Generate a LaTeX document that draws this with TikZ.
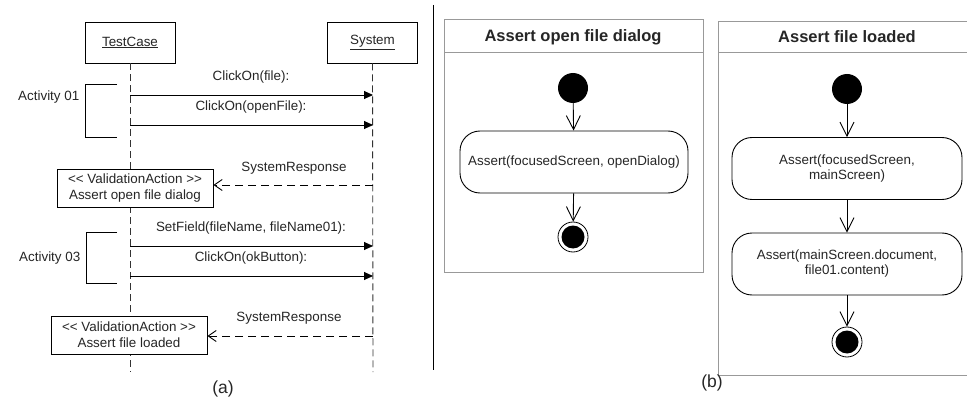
\documentclass[tikz,border=0pt]{standalone}
\usepackage{fontspec}
\setmainfont{Liberation Sans}
\usetikzlibrary{arrows.meta}
\begin{document}
\begin{tikzpicture}[x=1pt,y=-1pt,
  txt/.style={font=\fontsize{13.4}{16}\selectfont, inner sep=0pt, text=black!85},
  ttl/.style={font=\bfseries\fontsize{16.5}{18}\selectfont, inner sep=0pt, text=black!85},
  captxt/.style={font=\fontsize{17.5}{19}\selectfont, inner sep=0pt, text=black!85},
  objbox/.style={draw, line width=0.9pt, fill=white, minimum width=90pt, minimum height=41pt, inner sep=0pt, font=\fontsize{13.4}{16}\selectfont, text=black!85},
  valbox/.style={draw, line width=0.9pt, fill=white, minimum width=156pt, minimum height=38pt, inner sep=0pt, align=center, font=\fontsize{13.4}{16}\selectfont, text=black!85},
  lifeline/.style={line width=0.9pt, dash pattern=on 7pt off 4pt, black!80},
  msg/.style={line width=0.9pt, -{Triangle[length=9pt,width=8pt]}},
  resp/.style={line width=0.9pt, dash pattern=on 8pt off 5pt, -{Straight Barb[length=8pt,width=11pt,line width=0.9pt]}},
  bracket/.style={line width=0.9pt},
  panel/.style={line width=1pt, black!40},
  actbox/.style={draw, line width=0.9pt, rounded corners=20pt, minimum height=62pt, inner sep=0pt, align=center, font=\fontsize{13.4}{15}\selectfont, text=black!85},
  initnode/.style={circle, fill=black, minimum size=30pt, inner sep=0pt},
  finalring/.style={circle, draw, line width=0.8pt, minimum size=30pt, inner sep=0pt},
  finaldot/.style={circle, fill=black, minimum size=23pt, inner sep=0pt},
  flow/.style={line width=0.9pt, -{Straight Barb[length=14pt,width=14pt,line width=0.9pt]}}
]
\useasboundingbox (0,0) rectangle (967,401);
\fill[white] (0,0) rectangle (967,401);

% ---------- (a) sequence diagram ----------
\node[objbox] (tc) at (130,42.5) {\underline{TestCase}};
\node[objbox] (sys) at (372.5,42.5) {\underline{System}};
\coordinate (tcend) at (130,372);
\coordinate (sysend) at (373,372);
\draw[lifeline] (tc.south) -- (tcend);
\draw[lifeline] (sys.south) -- (sysend);

\coordinate (m1s) at (130,95);  \coordinate (m1e) at (373,95);
\coordinate (m2s) at (130,125); \coordinate (m2e) at (373,125);
\coordinate (m3s) at (130,246); \coordinate (m3e) at (373,246);
\coordinate (m4s) at (130,276); \coordinate (m4e) at (373,276);
\draw[msg] (m1s) -- (m1e);
\draw[msg] (m2s) -- (m2e);
\draw[msg] (m3s) -- (m3e);
\draw[msg] (m4s) -- (m4e);
\node[txt] (l1) at (251,77) {ClickOn(file):};
\node[txt] (l2) at (251,107) {ClickOn(openFile):};
\node[txt] (l3) at (251,228) {SetField(fileName, fileName01):};
\node[txt] (l4) at (251,258) {ClickOn(okButton):};

\node[valbox] (v1) at (135,188.5) {<\kern0pt< ValidationAction >\kern0pt>\\Assert open file dialog};
\node[valbox] (v2) at (129,335) {<\kern0pt< ValidationAction >\kern0pt>\\Assert file loaded};
\coordinate (r1) at (373,185);
\coordinate (r2) at (373,336);
\draw[resp] (r1) -- (r1 -| v1.east);
\draw[resp] (r2) -- (r2 -| v2.east);
\node[txt] (sr1) at (294,168) {SystemResponse};
\node[txt] (sr2) at (289,318) {SystemResponse};

\draw[bracket] (117,84) -- (85,84) -- (85,137) -- (117,137);
\draw[bracket] (117,232) -- (86,232) -- (86,283) -- (117,283);
\node[txt, anchor=east] (a1) at (79.5,97) {Activity 01};
\node[txt, anchor=east] (a3) at (80.5,258) {Activity 03};

\node[captxt] (capa) at (223,389) {(a)};

% separator
\draw[line width=1pt] (433,5) -- (433,370);

% ---------- (b) activity diagrams ----------
\draw[panel] (444,20) rectangle (703,272);
\draw[panel] (444,53) -- (703,53);
\node[ttl] (t1) at (573,37) {Assert open file dialog};
\node[initnode] (i1) at (573,88) {};
\node[actbox, minimum width=228pt] (b1) at (574,162) {Assert(focusedScreen, openDialog)};
\node[finalring] (f1) at (573,237) {};
\node[finaldot] at (f1) {};
\draw[flow] (i1) -- (b1);
\draw[flow] (b1) -- (f1);

\draw[panel] (967,22) -- (718,22) -- (718,375) -- (967,375);
\draw[panel] (718,53) -- (967,53);
\node[ttl] (t2) at (847,37) {Assert file loaded};
\node[initnode] (i2) at (847,89) {};
\node[actbox, minimum width=230pt] (b2) at (847,168.5) {Assert(focusedScreen,\\mainScreen)};
\node[actbox, minimum width=230pt] (b3) at (847,264) {Assert(mainScreen.document,\\file01.content)};
\node[finalring] (f2) at (847,342) {};
\node[finaldot] at (f2) {};
\draw[flow] (i2) -- (b2);
\draw[flow] (b2) -- (b3);
\draw[flow] (b3) -- (f2);

\node[captxt] (capb) at (712,383) {(b)};
\end{tikzpicture}
\end{document}
